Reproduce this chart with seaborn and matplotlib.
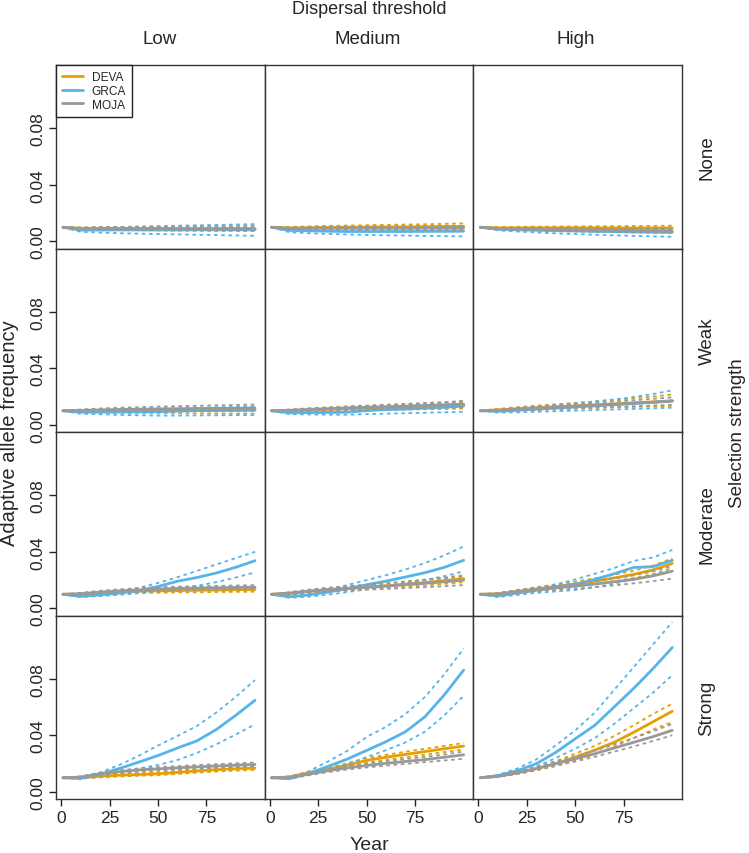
import pandas as pd
import seaborn as sns
import matplotlib.pyplot as plt
from matplotlib.lines import Line2D

years = [1, 10, 20, 30, 40, 50, 60, 70, 80, 90, 100]
selection = ['None', 'Weak', 'Moderate', 'Strong']
dispersal = ['Low', 'Medium', 'High']
pops = ['DEVA', 'GRCA', 'MOJA']
pop_colors = {'DEVA': '#E69F00', 'GRCA': '#56B4E9', 'MOJA': '#999999'}

# one row per panel: None-Low, None-Medium, None-High, Weak-Low, ... Strong-High
deva_mean = [
    [0.010, 0.0092, 0.0092, 0.0092, 0.0091, 0.0091, 0.0090, 0.0090, 0.0089, 0.0089, 0.0088],
    [0.010, 0.0095, 0.0097, 0.0099, 0.0100, 0.0101, 0.0102, 0.0103, 0.0104, 0.0105, 0.0106],
    [0.010, 0.0095, 0.0096, 0.0096, 0.0096, 0.0096, 0.0096, 0.0095, 0.0095, 0.0095, 0.0095],
    [0.010, 0.0097, 0.0098, 0.0098, 0.0099, 0.0099, 0.0100, 0.0101, 0.0102, 0.0103, 0.0104],
    [0.010, 0.0101, 0.0106, 0.0110, 0.0114, 0.0118, 0.0122, 0.0126, 0.0130, 0.0134, 0.0138],
    [0.010, 0.0106, 0.0114, 0.0122, 0.0129, 0.0135, 0.0142, 0.0149, 0.0156, 0.0163, 0.0170],
    [0.010, 0.0100, 0.0109, 0.0116, 0.0121, 0.0124, 0.0126, 0.0128, 0.0130, 0.0132, 0.0134],
    [0.010, 0.0105, 0.0120, 0.0131, 0.0140, 0.0150, 0.0160, 0.0171, 0.0183, 0.0196, 0.0210],
    [0.010, 0.0103, 0.0120, 0.0138, 0.0155, 0.0172, 0.0192, 0.0215, 0.0240, 0.0272, 0.0318],
    [0.010, 0.0101, 0.0110, 0.0118, 0.0123, 0.0128, 0.0138, 0.0148, 0.0157, 0.0163, 0.0168],
    [0.010, 0.0105, 0.0135, 0.0160, 0.0190, 0.0222, 0.0245, 0.0265, 0.0285, 0.0305, 0.0324],
    [0.010, 0.0110, 0.0135, 0.0165, 0.0200, 0.0246, 0.0295, 0.0350, 0.0420, 0.0495, 0.0570],
]
deva_lo = [
    [0.010, 0.0085, 0.0083, 0.0081, 0.0080, 0.0079, 0.0078, 0.0077, 0.0076, 0.0075, 0.0074],
    [0.010, 0.0088, 0.0087, 0.0087, 0.0087, 0.0087, 0.0087, 0.0087, 0.0087, 0.0087, 0.0087],
    [0.010, 0.0089, 0.0088, 0.0087, 0.0086, 0.0085, 0.0084, 0.0084, 0.0083, 0.0082, 0.0082],
    [0.010, 0.0090, 0.0088, 0.0086, 0.0085, 0.0084, 0.0083, 0.0082, 0.0081, 0.0080, 0.0080],
    [0.010, 0.0095, 0.0096, 0.0098, 0.0100, 0.0103, 0.0105, 0.0108, 0.0111, 0.0113, 0.0116],
    [0.010, 0.0099, 0.0103, 0.0108, 0.0112, 0.0116, 0.0120, 0.0124, 0.0127, 0.0131, 0.0135],
    [0.010, 0.0094, 0.0100, 0.0105, 0.0109, 0.0111, 0.0113, 0.0114, 0.0116, 0.0117, 0.0118],
    [0.010, 0.0099, 0.0110, 0.0119, 0.0127, 0.0135, 0.0143, 0.0152, 0.0162, 0.0173, 0.0185],
    [0.010, 0.0097, 0.0110, 0.0126, 0.0140, 0.0155, 0.0172, 0.0192, 0.0214, 0.0242, 0.0285],
    [0.010, 0.0095, 0.0102, 0.0109, 0.0114, 0.0118, 0.0127, 0.0136, 0.0144, 0.0150, 0.0155],
    [0.010, 0.0100, 0.0127, 0.0150, 0.0177, 0.0205, 0.0226, 0.0245, 0.0263, 0.0282, 0.0300],
    [0.010, 0.0105, 0.0126, 0.0152, 0.0183, 0.0222, 0.0265, 0.0320, 0.0380, 0.0440, 0.0494],
]
deva_hi = [
    [0.010, 0.0099, 0.0101, 0.0102, 0.0103, 0.0104, 0.0104, 0.0105, 0.0105, 0.0105, 0.0106],
    [0.010, 0.0102, 0.0106, 0.0110, 0.0112, 0.0114, 0.0117, 0.0119, 0.0121, 0.0124, 0.0127],
    [0.010, 0.0101, 0.0103, 0.0104, 0.0105, 0.0106, 0.0107, 0.0108, 0.0109, 0.0110, 0.0111],
    [0.010, 0.0105, 0.0108, 0.0111, 0.0113, 0.0115, 0.0117, 0.0119, 0.0121, 0.0123, 0.0125],
    [0.010, 0.0107, 0.0115, 0.0122, 0.0128, 0.0133, 0.0138, 0.0144, 0.0150, 0.0156, 0.0160],
    [0.010, 0.0113, 0.0125, 0.0136, 0.0146, 0.0155, 0.0165, 0.0175, 0.0187, 0.0200, 0.0215],
    [0.010, 0.0106, 0.0118, 0.0127, 0.0133, 0.0137, 0.0140, 0.0142, 0.0144, 0.0147, 0.0150],
    [0.010, 0.0111, 0.0130, 0.0143, 0.0154, 0.0165, 0.0177, 0.0190, 0.0204, 0.0219, 0.0235],
    [0.010, 0.0109, 0.0130, 0.0150, 0.0170, 0.0190, 0.0212, 0.0238, 0.0266, 0.0302, 0.0354],
    [0.010, 0.0107, 0.0118, 0.0127, 0.0132, 0.0138, 0.0149, 0.0160, 0.0170, 0.0176, 0.0181],
    [0.010, 0.0110, 0.0143, 0.0170, 0.0203, 0.0238, 0.0262, 0.0284, 0.0305, 0.0325, 0.0345],
    [0.010, 0.0115, 0.0145, 0.0178, 0.0218, 0.0270, 0.0325, 0.0395, 0.0470, 0.0550, 0.0624],
]
grca_mean = [
    [0.010, 0.0080, 0.0080, 0.0081, 0.0081, 0.0081, 0.0081, 0.0082, 0.0082, 0.0082, 0.0082],
    [0.010, 0.0078, 0.0075, 0.0072, 0.0070, 0.0070, 0.0070, 0.0070, 0.0071, 0.0071, 0.0072],
    [0.010, 0.0086, 0.0082, 0.0079, 0.0076, 0.0074, 0.0071, 0.0069, 0.0067, 0.0065, 0.0064],
    [0.010, 0.0090, 0.0090, 0.0091, 0.0092, 0.0093, 0.0098, 0.0101, 0.0103, 0.0105, 0.0108],
    [0.010, 0.0086, 0.0087, 0.0088, 0.0090, 0.0101, 0.0108, 0.0112, 0.0118, 0.0124, 0.0133],
    [0.010, 0.0096, 0.0103, 0.0111, 0.0119, 0.0127, 0.0135, 0.0143, 0.0151, 0.0160, 0.0170],
    [0.010, 0.0085, 0.0095, 0.0108, 0.0125, 0.0155, 0.0192, 0.0218, 0.0250, 0.0290, 0.0337],
    [0.010, 0.0082, 0.0095, 0.0115, 0.0140, 0.0167, 0.0193, 0.0222, 0.0252, 0.0290, 0.0340],
    [0.010, 0.0088, 0.0108, 0.0128, 0.0148, 0.0170, 0.0205, 0.0245, 0.0289, 0.0295, 0.0340],
    [0.010, 0.0095, 0.0125, 0.0165, 0.0210, 0.0257, 0.0310, 0.0360, 0.0440, 0.0540, 0.0647],
    [0.010, 0.0093, 0.0130, 0.0180, 0.0232, 0.0293, 0.0355, 0.0425, 0.0530, 0.0685, 0.0860],
    [0.010, 0.0115, 0.0150, 0.0200, 0.0280, 0.0376, 0.0470, 0.0600, 0.0730, 0.0870, 0.1020],
]
grca_lo = [
    [0.010, 0.0068, 0.0062, 0.0058, 0.0055, 0.0052, 0.0050, 0.0047, 0.0045, 0.0042, 0.0040],
    [0.010, 0.0065, 0.0058, 0.0053, 0.0049, 0.0046, 0.0043, 0.0041, 0.0039, 0.0037, 0.0035],
    [0.010, 0.0078, 0.0070, 0.0063, 0.0057, 0.0052, 0.0047, 0.0043, 0.0039, 0.0036, 0.0033],
    [0.010, 0.0079, 0.0075, 0.0071, 0.0068, 0.0066, 0.0066, 0.0067, 0.0068, 0.0069, 0.0070],
    [0.010, 0.0076, 0.0074, 0.0072, 0.0072, 0.0076, 0.0080, 0.0083, 0.0086, 0.0089, 0.0093],
    [0.010, 0.0087, 0.0089, 0.0093, 0.0097, 0.0101, 0.0105, 0.0109, 0.0113, 0.0117, 0.0122],
    [0.010, 0.0080, 0.0087, 0.0096, 0.0108, 0.0122, 0.0140, 0.0160, 0.0185, 0.0218, 0.0254],
    [0.010, 0.0075, 0.0083, 0.0097, 0.0115, 0.0135, 0.0155, 0.0177, 0.0200, 0.0228, 0.0262],
    [0.010, 0.0080, 0.0095, 0.0110, 0.0120, 0.0130, 0.0150, 0.0175, 0.0205, 0.0235, 0.0270],
    [0.010, 0.0090, 0.0113, 0.0140, 0.0165, 0.0190, 0.0225, 0.0275, 0.0335, 0.0405, 0.0477],
    [0.010, 0.0090, 0.0120, 0.0155, 0.0195, 0.0246, 0.0295, 0.0350, 0.0425, 0.0540, 0.0679],
    [0.010, 0.0110, 0.0140, 0.0180, 0.0240, 0.0305, 0.0380, 0.0480, 0.0590, 0.0700, 0.0825],
]
grca_hi = [
    [0.010, 0.0093, 0.0098, 0.0102, 0.0105, 0.0108, 0.0111, 0.0114, 0.0116, 0.0119, 0.0122],
    [0.010, 0.0090, 0.0091, 0.0092, 0.0093, 0.0094, 0.0096, 0.0098, 0.0099, 0.0101, 0.0103],
    [0.010, 0.0093, 0.0093, 0.0093, 0.0093, 0.0093, 0.0093, 0.0092, 0.0092, 0.0092, 0.0092],
    [0.010, 0.0100, 0.0104, 0.0107, 0.0110, 0.0113, 0.0117, 0.0121, 0.0124, 0.0127, 0.0130],
    [0.010, 0.0096, 0.0101, 0.0106, 0.0111, 0.0122, 0.0130, 0.0137, 0.0146, 0.0156, 0.0170],
    [0.010, 0.0105, 0.0117, 0.0129, 0.0141, 0.0153, 0.0166, 0.0180, 0.0197, 0.0218, 0.0244],
    [0.010, 0.0092, 0.0105, 0.0122, 0.0145, 0.0180, 0.0220, 0.0265, 0.0310, 0.0355, 0.0400],
    [0.010, 0.0090, 0.0110, 0.0135, 0.0165, 0.0200, 0.0235, 0.0275, 0.0320, 0.0375, 0.0437],
    [0.010, 0.0096, 0.0120, 0.0145, 0.0170, 0.0205, 0.0245, 0.0285, 0.0335, 0.0360, 0.0413],
    [0.010, 0.0102, 0.0137, 0.0190, 0.0255, 0.0328, 0.0395, 0.0465, 0.0560, 0.0670, 0.0790],
    [0.010, 0.0098, 0.0145, 0.0215, 0.0290, 0.0388, 0.0460, 0.0550, 0.0670, 0.0830, 0.1014],
    [0.010, 0.0120, 0.0165, 0.0230, 0.0330, 0.0435, 0.0560, 0.0720, 0.0880, 0.1040, 0.1200],
]
moja_mean = [
    [0.010, 0.0090, 0.0091, 0.0091, 0.0091, 0.0091, 0.0090, 0.0090, 0.0090, 0.0090, 0.0090],
    [0.010, 0.0091, 0.0092, 0.0093, 0.0093, 0.0093, 0.0093, 0.0093, 0.0094, 0.0094, 0.0094],
    [0.010, 0.0090, 0.0088, 0.0086, 0.0084, 0.0082, 0.0080, 0.0079, 0.0078, 0.0076, 0.0075],
    [0.010, 0.0102, 0.0106, 0.0109, 0.0111, 0.0113, 0.0114, 0.0116, 0.0117, 0.0118, 0.0120],
    [0.010, 0.0103, 0.0109, 0.0115, 0.0120, 0.0125, 0.0129, 0.0133, 0.0137, 0.0142, 0.0147],
    [0.010, 0.0103, 0.0111, 0.0118, 0.0125, 0.0132, 0.0139, 0.0146, 0.0153, 0.0160, 0.0168],
    [0.010, 0.0104, 0.0115, 0.0124, 0.0131, 0.0137, 0.0141, 0.0144, 0.0146, 0.0148, 0.0150],
    [0.010, 0.0108, 0.0122, 0.0133, 0.0142, 0.0150, 0.0158, 0.0167, 0.0177, 0.0188, 0.0200],
    [0.010, 0.0101, 0.0118, 0.0133, 0.0145, 0.0158, 0.0172, 0.0188, 0.0205, 0.0230, 0.0263],
    [0.010, 0.0105, 0.0128, 0.0143, 0.0155, 0.0163, 0.0170, 0.0177, 0.0183, 0.0189, 0.0194],
    [0.010, 0.0103, 0.0125, 0.0150, 0.0170, 0.0187, 0.0202, 0.0215, 0.0228, 0.0245, 0.0262],
    [0.010, 0.0110, 0.0135, 0.0165, 0.0200, 0.0234, 0.0270, 0.0310, 0.0350, 0.0390, 0.0435],
]
moja_lo = [
    [0.010, 0.0083, 0.0082, 0.0081, 0.0080, 0.0079, 0.0078, 0.0077, 0.0076, 0.0076, 0.0075],
    [0.010, 0.0084, 0.0083, 0.0082, 0.0082, 0.0081, 0.0081, 0.0080, 0.0080, 0.0080, 0.0080],
    [0.010, 0.0084, 0.0080, 0.0076, 0.0073, 0.0070, 0.0068, 0.0066, 0.0064, 0.0062, 0.0060],
    [0.010, 0.0095, 0.0096, 0.0097, 0.0097, 0.0098, 0.0098, 0.0099, 0.0099, 0.0100, 0.0100],
    [0.010, 0.0097, 0.0100, 0.0104, 0.0107, 0.0110, 0.0113, 0.0116, 0.0119, 0.0122, 0.0125],
    [0.010, 0.0097, 0.0102, 0.0107, 0.0112, 0.0117, 0.0122, 0.0127, 0.0132, 0.0137, 0.0142],
    [0.010, 0.0098, 0.0106, 0.0113, 0.0119, 0.0124, 0.0128, 0.0131, 0.0133, 0.0135, 0.0137],
    [0.010, 0.0101, 0.0112, 0.0120, 0.0127, 0.0133, 0.0138, 0.0144, 0.0150, 0.0157, 0.0165],
    [0.010, 0.0095, 0.0108, 0.0120, 0.0130, 0.0140, 0.0150, 0.0163, 0.0177, 0.0193, 0.0210],
    [0.010, 0.0100, 0.0120, 0.0133, 0.0144, 0.0151, 0.0158, 0.0164, 0.0170, 0.0175, 0.0180],
    [0.010, 0.0098, 0.0117, 0.0140, 0.0158, 0.0173, 0.0186, 0.0198, 0.0210, 0.0222, 0.0234],
    [0.010, 0.0106, 0.0128, 0.0155, 0.0185, 0.0215, 0.0248, 0.0285, 0.0320, 0.0360, 0.0400],
]
moja_hi = [
    [0.010, 0.0097, 0.0100, 0.0101, 0.0102, 0.0103, 0.0104, 0.0105, 0.0106, 0.0107, 0.0108],
    [0.010, 0.0098, 0.0101, 0.0103, 0.0104, 0.0105, 0.0106, 0.0107, 0.0108, 0.0109, 0.0110],
    [0.010, 0.0096, 0.0096, 0.0096, 0.0096, 0.0095, 0.0094, 0.0093, 0.0092, 0.0091, 0.0090],
    [0.010, 0.0109, 0.0116, 0.0121, 0.0125, 0.0129, 0.0132, 0.0135, 0.0138, 0.0141, 0.0144],
    [0.010, 0.0109, 0.0117, 0.0124, 0.0131, 0.0137, 0.0143, 0.0149, 0.0155, 0.0161, 0.0168],
    [0.010, 0.0109, 0.0120, 0.0129, 0.0138, 0.0147, 0.0156, 0.0165, 0.0174, 0.0184, 0.0195],
    [0.010, 0.0110, 0.0124, 0.0135, 0.0143, 0.0150, 0.0154, 0.0157, 0.0159, 0.0162, 0.0164],
    [0.010, 0.0115, 0.0132, 0.0146, 0.0157, 0.0167, 0.0177, 0.0188, 0.0200, 0.0212, 0.0225],
    [0.010, 0.0107, 0.0128, 0.0146, 0.0160, 0.0176, 0.0194, 0.0213, 0.0233, 0.0262, 0.0300],
    [0.010, 0.0110, 0.0136, 0.0153, 0.0166, 0.0175, 0.0182, 0.0190, 0.0196, 0.0202, 0.0208],
    [0.010, 0.0108, 0.0133, 0.0160, 0.0182, 0.0200, 0.0217, 0.0232, 0.0247, 0.0265, 0.0285],
    [0.010, 0.0114, 0.0142, 0.0175, 0.0213, 0.0252, 0.0292, 0.0335, 0.0380, 0.0428, 0.0480],
]

tables = {
    ('DEVA', 'mean'): deva_mean, ('DEVA', 'lo'): deva_lo, ('DEVA', 'hi'): deva_hi,
    ('GRCA', 'mean'): grca_mean, ('GRCA', 'lo'): grca_lo, ('GRCA', 'hi'): grca_hi,
    ('MOJA', 'mean'): moja_mean, ('MOJA', 'lo'): moja_lo, ('MOJA', 'hi'): moja_hi,
}

records = []
for (pop, stat), table in tables.items():
    for k, vals in enumerate(table):
        for yr, v in zip(years, vals):
            records.append((selection[k // 3], dispersal[k % 3], pop, stat, yr, v))
df = pd.DataFrame(records, columns=['selection', 'dispersal', 'pop', 'stat', 'year', 'value'])

# %%
sns.set_style('white')
plt.rcParams['font.family'] = ['Liberation Sans', 'DejaVu Sans']

fig, axes = plt.subplots(4, 3, figsize=(7.49, 8.54), dpi=100, sharex=True, sharey=True)
fig.subplots_adjust(left=56 / 749, right=682 / 749, top=1 - 66 / 854, bottom=1 - 800 / 854,
                    wspace=0, hspace=0)

for i, sel in enumerate(selection):
    for j, disp in enumerate(dispersal):
        ax = axes[i, j]
        sub = df[(df['selection'] == sel) & (df['dispersal'] == disp)]
        sns.lineplot(data=sub, x='year', y='value', hue='pop', style='stat', size='stat',
                     palette=pop_colors, hue_order=pops,
                     dashes={'mean': '', 'lo': (2, 2), 'hi': (2, 2)},
                     sizes={'mean': 2.0, 'lo': 1.3, 'hi': 1.3},
                     estimator=None, legend=False, ax=ax)
        ax.set(xlim=(-2.6, 105), ylim=(-0.005, 0.1246), xlabel='', ylabel='')
        ax.set_xticks([0, 25, 50, 75])
        ax.set_yticks([0, 0.04, 0.08])
        ax.set_yticklabels(['0.00', '0.04', '0.08'], rotation=90, va='center')
        ax.tick_params(axis='both', which='both', length=5, width=1, color='#222222',
                       labelsize=12.5, pad=3, direction='out',
                       left=(j == 0), bottom=(i == 3))
        for sp in ax.spines.values():
            sp.set_color('#333333')
            sp.set_linewidth(1)

# legend in the first panel
handles = [Line2D([], [], color=pop_colors[p], lw=2) for p in pops]
leg = axes[0, 0].legend(handles, pops, loc='upper left', borderaxespad=0, fontsize=8.6,
                        handlelength=1.8, handletextpad=0.7, labelspacing=0.15,
                        borderpad=0.5, fancybox=False, framealpha=1, edgecolor='#222222')
leg.get_frame().set_linewidth(1)

col_x = [(56 + 208 * j + 104) / 749 for j in range(3)]
for j, disp in enumerate(dispersal):
    fig.text(col_x[j], 1 - 39 / 854, disp, ha='center', va='center', fontsize=13.5)
fig.text(369 / 749, 1 - 10 / 854, 'Dispersal threshold', ha='center', va='center', fontsize=13)

for i, sel in enumerate(selection):
    yc = 1 - (66 + 183.5 * i + 91.75) / 854
    fig.text(707 / 749, yc, sel, ha='center', va='center', rotation=90, fontsize=13.5)
fig.text(738 / 749, 1 - 433 / 854, 'Selection strength', ha='center', va='center',
         rotation=90, fontsize=13.5)
fig.text(10 / 749, 1 - 433 / 854, 'Adaptive allele frequency', ha='center', va='center',
         rotation=90, fontsize=14.5)
fig.text(369 / 749, 1 - 846 / 854, 'Year', ha='center', va='center', fontsize=14)

plt.savefig('out.png', dpi=100)
